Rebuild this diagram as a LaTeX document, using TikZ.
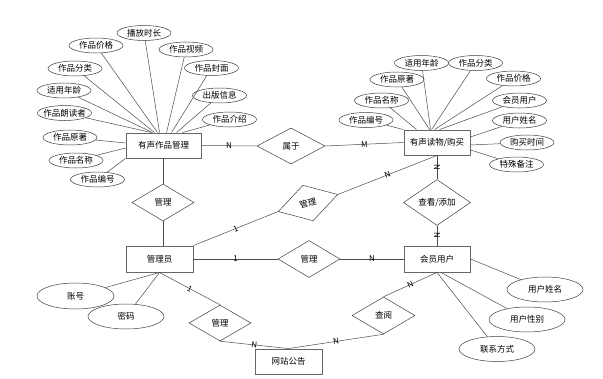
\documentclass[tikz,border=0pt]{standalone}
\usepackage{fontspec}
\setmainfont{Noto Sans CJK SC}
\usetikzlibrary{shapes.geometric}
\begin{document}
\begin{tikzpicture}[x=1pt,y=-1pt,
  font=\fontsize{8.5}{10}\selectfont,
  ent/.style={draw=black!60, line width=0.9pt, fill=white, inner sep=0pt, minimum width=67pt, minimum height=26pt},
  rel/.style={diamond, draw=black!75, line width=0.5pt, fill=white, inner sep=0pt, minimum width=62pt, minimum height=37pt},
  attr/.style={ellipse, draw=black!75, line width=0.5pt, fill=white, inner xsep=-6pt, inner ysep=0pt, minimum width=54pt, minimum height=15pt},
  attrL/.style={ellipse, draw=black!75, line width=0.5pt, fill=white, inner xsep=-6pt, inner ysep=0pt, minimum width=76pt, minimum height=25pt},
  conn/.style={draw=black!70, line width=0.5pt},
  lbl/.style={font=\fontsize{8}{9}\selectfont, inner sep=0.5pt}
]
\useasboundingbox (0,0) rectangle (603,378);
\fill[white] (0,0) rectangle (603,378);

% entities
\node[ent, minimum width=75pt, minimum height=25pt] (A) at (163.5,145.5) {有声作品管理};
\node[ent, minimum width=66pt, minimum height=25pt] (B) at (437,142.5) {有声读物/购买};
\node[ent] (C) at (159.5,259) {管理员};
\node[ent, minimum width=66pt] (D) at (437,259) {会员用户};
\node[ent, minimum height=25pt] (E) at (288.5,361.5) {网站公告};

% relationships
\node[rel, minimum width=68pt, minimum height=36pt] (R1) at (291,146) {属于};
\node[rel] (R2) at (163,202.5) {管理};
\node[rel, rotate=16] (R3) at (308,203) {管理};
\node[rel] (R4) at (309,259) {管理};
\node[rel, minimum width=67pt] (R5) at (437,202.5) {查看/添加};
\node[rel, minimum width=63pt] (R6) at (383.5,315.5) {查阅};
\node[rel, minimum height=36pt] (R7) at (220,323) {管理};

% attributes of A
\node[attr] (aBF) at (144,33) {播放时长};
\node[attr] (aJG) at (96,45.5) {作品价格};
\node[attr] (aSP) at (186,49.5) {作品视频};
\node[attr] (aFL) at (75,68.5) {作品分类};
\node[attr] (aFM) at (211.5,68) {作品封面};
\node[attr] (aNL) at (64,90.5) {适用年龄};
\node[attr] (aCB) at (219.5,95.5) {出版信息};
\node[attr] (aLD) at (64.5,113) {作品朗读者};
\node[attr] (aJS) at (229.5,119.5) {作品介绍};
\node[attr] (aYZ) at (70,137.5) {作品原著};
\node[attr] (aMC) at (76,160.5) {作品名称};
\node[attr] (aBH) at (97.5,179.5) {作品编号};

% attributes of B
\node[attr] (bNL) at (421.5,63) {适用年龄};
\node[attr] (bFL) at (475.5,63) {作品分类};
\node[attr] (bYZ) at (397,79.5) {作品原著};
\node[attr] (bJG) at (513.5,78.5) {作品价格};
\node[attr] (bMC) at (381.5,100.5) {作品名称};
\node[attr] (bHY) at (519.5,100.5) {会员用户};
\node[attr] (bBH) at (366,120) {作品编号};
\node[attr] (bXM) at (519.5,120.5) {用户姓名};
\node[attr] (bSJ) at (527,142.5) {购买时间};
\node[attr] (bBZ) at (516.5,164.5) {特殊备注};

% attributes of C
\node[attrL, minimum width=77pt, minimum height=26pt] (cZH) at (75.5,296) {账号};
\node[attrL] (cMM) at (126,316.5) {密码};

% attributes of D
\node[attrL] (dXM) at (545,289.5) {用户姓名};
\node[attrL] (dXB) at (527,319.5) {用户性别};
\node[attrL] (dLX) at (497,349) {联系方式};

% attribute lines A
\draw[conn] (aLD) -- ([xshift=26pt]A.north west);
\draw[conn] (aNL) -- ([xshift=27pt]A.north west);
\draw[conn] (aFL) -- ([xshift=29pt]A.north west);
\draw[conn] (aJG) -- ([xshift=32pt]A.north west);
\draw[conn] (aBF) -- ([xshift=34pt]A.north west);
\draw[conn] (aSP) -- ([xshift=41pt]A.north west);
\draw[conn] (aFM) -- ([xshift=46pt]A.north west);
\draw[conn] (aCB) -- ([xshift=51pt]A.north west);
\draw[conn] (aJS) -- ([xshift=57pt]A.north west);
\draw[conn] (aYZ) -- ([yshift=2.5pt]A.west);
\draw[conn] (aMC) -- ([yshift=-2.5pt]A.west);
\draw[conn] (aBH) -- (A.south west);

% attribute lines B
\draw[conn] (bBH) -- (B.north west);
\draw[conn] (bMC) -- ([xshift=13pt]B.north west);
\draw[conn] (bYZ) -- ([xshift=26pt]B.north west);
\draw[conn] (bNL) -- ([xshift=27pt]B.north west);
\draw[conn] (bFL) -- ([xshift=28pt]B.north west);
\draw[conn] (bJG) -- ([xshift=31pt]B.north west);
\draw[conn] (bHY) -- ([xshift=36pt]B.north west);
\draw[conn] (bXM) -- ([yshift=5.5pt]B.east);
\draw[conn] (bSJ) -- ([yshift=-2.5pt]B.east);
\draw[conn] (bBZ) -- ([yshift=-7.5pt]B.east);

% attribute lines C, D
\draw[conn] (cZH) -- (C.south);
\draw[conn] (cMM) -- (C.south);
\draw[conn] (dXM) -- (D.east);
\draw[conn] (dXB) -- ([xshift=4pt]D.south);
\draw[conn] (dLX) -- (D.south);

% relationship lines
\draw[conn] (A.east) -- node[lbl]{N} (R1.west);
\draw[conn] (R1.east) -- node[lbl]{M} (B.west);
\draw[conn] (A.south -| R2.north) -- (R2.north);
\draw[conn] (R2.south) -- (R2.south |- C.north);
\draw[conn] (C.north east) -- node[lbl, sloped]{1} (R3.west);
\draw[conn] (R3.east) -- node[lbl, sloped]{N} (B.south);
\draw[conn] (C.east) -- node[lbl]{1} (R4.west);
\draw[conn] (R4.east) -- node[lbl]{N} (D.west);
\draw[conn] (B.south) -- node[lbl, sloped]{N} (R5.north);
\draw[conn] (R5.south) -- node[lbl, sloped]{N} (D.north);
\draw[conn] (D.south) -- node[lbl, sloped]{N} (R6.north);
\draw[conn] (R6.south) -- node[lbl, sloped]{N} (E.north);
\draw[conn] (C.south) -- node[lbl, sloped]{1} (R7.north);
\draw[conn] (R7.south) -- node[lbl, sloped]{N} (E.north);
\end{tikzpicture}
\end{document}
